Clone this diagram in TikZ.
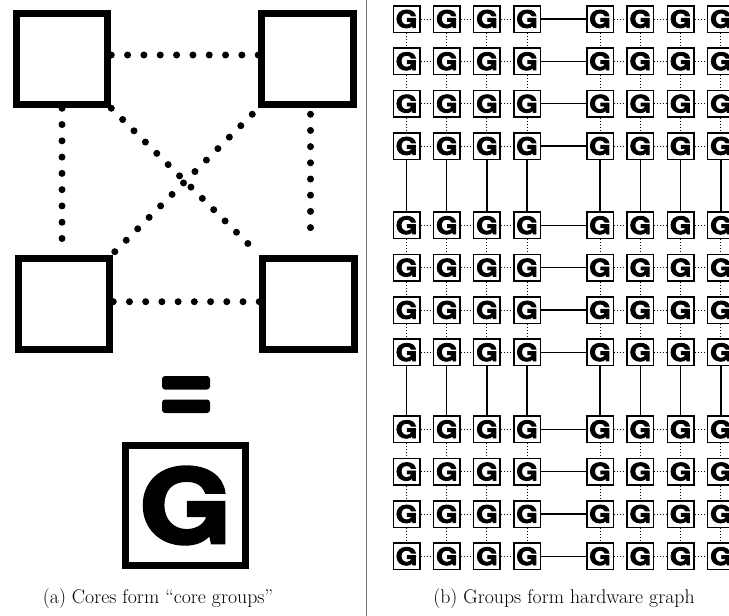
\documentclass[tikz,border=0pt]{standalone}
\usepackage{fontspec}
\usepackage{graphicx}
\newfontfamily\gfont{TeX Gyre Heros}[UprightFont=* Bold, FakeBold=3.5]
\newcommand\wideG{\scalebox{1.15}[1]{G}}
\definecolor{divgray}{gray}{0.45}
\tikzset{
  core/.style={draw, line width=7pt, minimum size=91.5pt, inner sep=0pt},
  bigdots/.style={line width=7pt, line cap=round, dash pattern=on 0pt off #1},
  biggbox/.style={draw, line width=7pt, minimum size=120pt, inner sep=0pt, font=\gfont\fontsize{102}{102}\selectfont},
  gbox/.style={draw, line width=1.5pt, minimum size=26.5pt, inner sep=0pt, font=\gfont\fontsize{24}{24}\selectfont},
  dotlink/.style={draw=black, line width=1pt, dash pattern=on 1pt off 2pt},
  solidlink/.style={draw=black, line width=1.3pt},
  caption/.style={anchor=base, text=black, font=\fontsize{19.8}{24}\selectfont}
}
\begin{document}
\begin{tikzpicture}[x=1pt,y=-1pt]
\useasboundingbox (0,0) rectangle (729,616);
% ---- captions ----
\node[caption] (capA) at (158,603) {(a) Cores form ``core groups''};
\node[caption] (capB) at (564,603) {(b) Groups form hardware graph};
% ---- divider ----
\draw[line width=1pt, divgray] (366.5,0) -- (366.5,616);
% ---- left panel ----
\node[core] (TL) at (62,59) {};
\node[core] (TR) at (307.5,59) {};
\node[core] (BL) at (64,304) {};
\node[core] (BR) at (308.5,304) {};
\draw[bigdots=16.33pt] ([yshift=4pt]TL.east) -- ([yshift=4pt]TR.west);
\draw[bigdots=16.28pt] (TL.south) -- (TL.south |- BL.north);
\draw[bigdots=16.19pt] ([xshift=3pt,yshift=-6pt]TR.south) -- ([xshift=2pt,yshift=11pt]BR.north);
\draw[bigdots=16.22pt] ([yshift=2.3pt]BL.east) -- ([yshift=2.3pt]BR.west);
\draw[bigdots=16.02pt] (TL.south east) -- (BR.north west);
\draw[bigdots=16.2pt] ([xshift=-6pt,yshift=-6pt]TR.south west) -- ([xshift=1.5pt,yshift=3pt]BL.north east);
\fill[rounded corners=3pt] (162,376) rectangle (210,389.5);
\fill[rounded corners=3pt] (162,399.5) rectangle (210,413);
\node[biggbox] (BigG) at (185.5,505.5) {\wideG};
% ---- right panel ----
\foreach \r/\y in {1/19,2/61.3,3/103.7,4/146,5/225.3,6/267.6,7/310,8/352.3,9/429.3,10/471.6,11/514,12/556.3}
  \foreach \c/\x in {1/406.5,2/446.8,3/486.9,4/527,5/600,6/640.3,7/680.6,8/720.9}
    \node[gbox] (g-\r-\c) at (\x,\y) {\wideG};
\foreach \r in {1,2,3,4,5,6,7,8,9,10,11,12}
  \foreach \c/\d/\s in {1/2/dotlink,2/3/dotlink,3/4/dotlink,4/5/solidlink,5/6/dotlink,6/7/dotlink,7/8/dotlink}
    \draw[\s] (g-\r-\c) -- (g-\r-\d);
\foreach \c in {1,2,3,4,5,6,7,8}
  \foreach \r/\d/\s in {1/2/dotlink,2/3/dotlink,3/4/dotlink,4/5/solidlink,5/6/dotlink,6/7/dotlink,7/8/dotlink,8/9/solidlink,9/10/dotlink,10/11/dotlink,11/12/dotlink}
    \draw[\s] (g-\r-\c) -- (g-\d-\c);
\end{tikzpicture}
\end{document}
